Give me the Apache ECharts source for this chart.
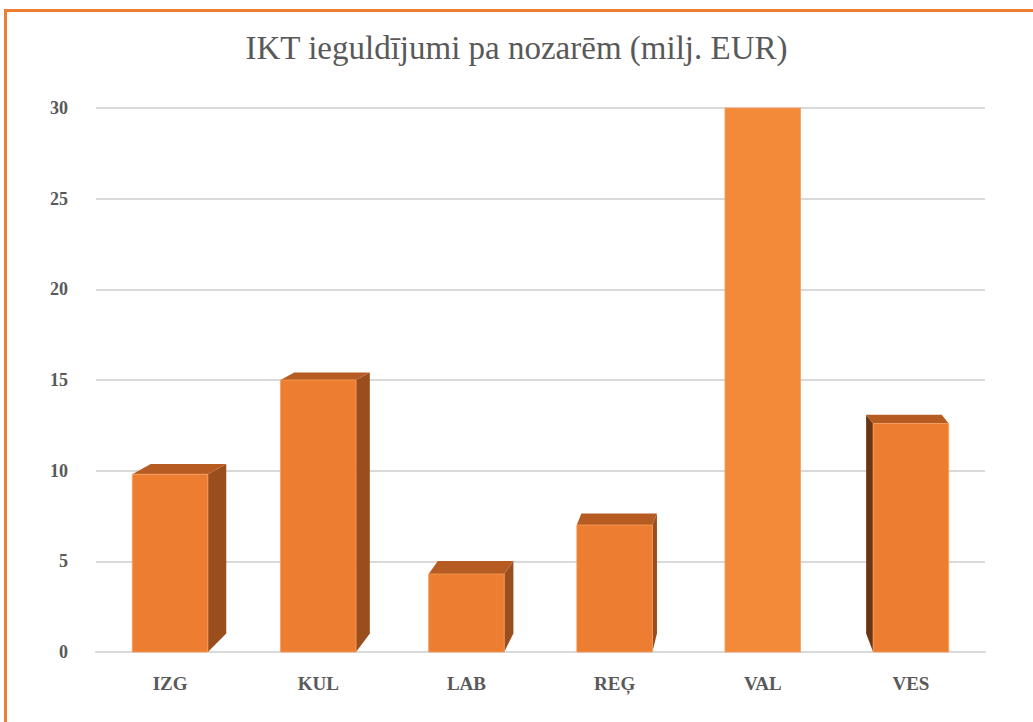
<!DOCTYPE html>
<html>
<head>
<meta charset="utf-8">
<script src="https://cdn.jsdelivr.net/npm/echarts@6/dist/echarts.min.js"></script>
<style>
  html, body { margin: 0; padding: 0; background: #fff; }
  #frame { position: absolute; left: 4px; top: 9px; width: 1100px; height: 800px;
           border-top: 3px solid #ED7D31; border-left: 3px solid #ED7D31; }
  #chart { position: absolute; left: 0; top: 0; width: 1033px; height: 722px; }
</style>
</head>
<body>
<div id="frame"></div>
<div id="chart"></div>
<script>
(function() {
  var categories = ['IZG', 'KUL', 'LAB', 'REĢ', 'VAL', 'VES'];
  var values = [9.8, 15, 4.3, 7, 30, 12.6];
  var yTicks = [0, 5, 10, 15, 20, 25, 30];

  var front = '#ED7D31';
  var side = '#9A4E1D';
  var topFace = '#B65C22';
  var ink = '#595959';
  var rule = '#D9D9D9';

  var chart = echarts.init(document.getElementById('chart'), null, { renderer: 'svg' });

  // fake 3d box: front face from the scale, side and top faces shifted towards the eye point
  function renderBox(params, api) {
    var i = api.value(0);
    var v = api.value(1);
    var base = api.coord([i, 0]);
    var top = api.coord([i, v]);
    var bw = api.size([1, 0])[0] * 0.51;
    var x0 = base[0] - bw / 2, x1 = base[0] + bw / 2;
    var dx = i <= 4 ? (4 - i) * 4.6 : -7;
    var dyTop = Math.max(0, (top[1] - 108) * 0.028);
    var dyBase = (base[1] - 108) * 0.034;
    var sx = dx >= 0 ? x1 : x0;
    var children = [];
    if (dx !== 0) {
      children.push({
        type: 'polygon',
        shape: { points: [[sx, top[1]], [sx + dx, top[1] - dyTop], [sx + dx, base[1] - dyBase], [sx, base[1]]] },
        style: { fill: dx > 0 ? side : '#6A3510' }
      });
    }
    if (dyTop > 0.5) {
      children.push({
        type: 'polygon',
        shape: { points: [[x0, top[1]], [x0 + dx, top[1] - dyTop], [x1 + dx, top[1] - dyTop], [x1, top[1]]] },
        style: { fill: topFace }
      });
    }
    children.push({
      type: 'rect',
      shape: { x: x0, y: top[1], width: bw, height: base[1] - top[1] },
      style: { fill: i === 4 ? '#F28A3A' : front, stroke: '#F5A060', lineWidth: 0.8 }
    });
    return { type: 'group', children: children };
  }

  chart.setOption({
    animation: false,
    title: {
      text: 'IKT ieguldījumi pa nozarēm (milj. EUR)',
      left: 'center',
      top: 26,
      textStyle: { fontFamily: 'Liberation Serif', fontWeight: 'normal', fontSize: 33, color: ink }
    },
    grid: { left: 96, right: 48, top: 108, bottom: 70 },
    xAxis: {
      type: 'category',
      data: categories,
      axisLine: { show: true, lineStyle: { color: rule, width: 2 } },
      axisTick: { show: false },
      axisLabel: { color: ink, fontFamily: 'Liberation Serif', fontWeight: 'bold', fontSize: 19, margin: 22 }
    },
    yAxis: {
      type: 'value',
      min: 0,
      max: yTicks[yTicks.length - 1],
      interval: yTicks[1] - yTicks[0],
      axisLine: { show: false },
      axisTick: { show: false },
      axisLabel: { color: ink, fontFamily: 'Liberation Serif', fontWeight: 'bold', fontSize: 18, margin: 28 },
      splitLine: { lineStyle: { color: rule, width: 2 } }
    },
    series: [{
      type: 'custom',
      renderItem: renderBox,
      encode: { x: 0, y: 1 },
      data: values.map(function(v, i) { return [i, v]; })
    }]
  });
  window.addEventListener('resize', function() { chart.resize(); });
})();
</script>
</body>
</html>
